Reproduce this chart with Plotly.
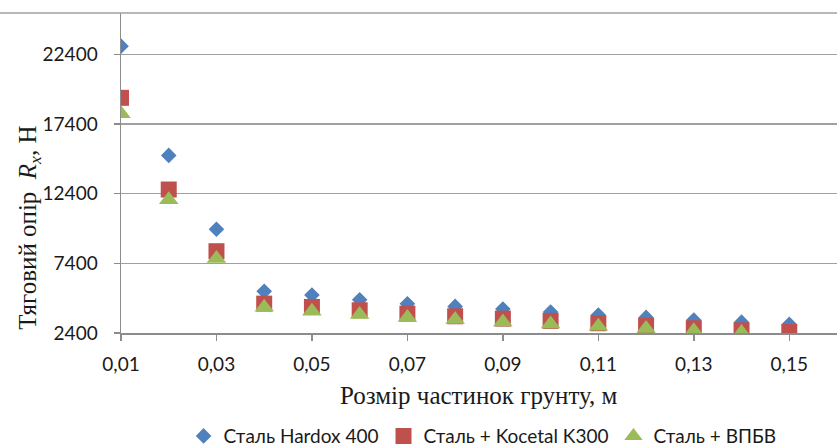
import plotly.graph_objects as go

x_vals = [0.01, 0.02, 0.03, 0.04, 0.05, 0.06, 0.07, 0.08, 0.09, 0.10, 0.11, 0.12, 0.13, 0.14, 0.15]
hardox = [22990, 15150, 9850, 5390, 5130, 4780, 4500, 4310, 4120, 3900, 3690, 3520, 3330, 3180, 3020]
kocetal = [19280, 12700, 8270, 4510, 4270, 4030, 3790, 3600, 3430, 3270, 3100, 2910, 2740, 2590, 2470]
vpbv_x = [0.01, 0.02, 0.03, 0.04, 0.05, 0.06, 0.07, 0.08, 0.09, 0.10, 0.11, 0.12, 0.13, 0.14]
vpbv = [18130, 11970, 7745, 4250, 3970, 3720, 3510, 3370, 3190, 3040, 2880, 2720, 2560, 2430]

names = ["Сталь Hardox 400", "Сталь + Kocetal K300", "Сталь + ВПБВ"]
colors = ["#4F81BD", "#C0504D", "#9BBB59"]

x_tickvals = [0.01, 0.03, 0.05, 0.07, 0.09, 0.11, 0.13, 0.15]
x_ticktext = ["0,01", "0,03", "0,05", "0,07", "0,09", "0,11", "0,13", "0,15"]
y_tickvals = [2400, 7400, 12400, 17400, 22400]

fig = go.Figure()
fig.add_trace(go.Scatter(x=x_vals, y=hardox, mode="markers", name=names[0],
                         marker=dict(symbol="diamond", size=12, color=colors[0])))
fig.add_trace(go.Scatter(x=x_vals, y=kocetal, mode="markers", name=names[1],
                         marker=dict(symbol="square", size=16, color=colors[1])))
fig.add_trace(go.Scatter(x=vpbv_x, y=vpbv, mode="markers", name=names[2],
                         marker=dict(symbol="triangle-up", size=17, color=colors[2])))

grid = "#a0a0a0"
axis_c = "#8c8c8c"
tick_font = dict(family="Lato, Calibri, 'Open Sans', sans-serif", size=19, color="#1a1a1a")

fig.update_layout(
    width=837, height=446,
    margin=dict(l=121, r=0, t=13, b=113, autoexpand=False),
    plot_bgcolor="white", paper_bgcolor="white",
    showlegend=True,
    legend=dict(orientation="h", x=0.505, xanchor="center", y=-0.322, yanchor="middle",
                font=dict(family="Lato, Calibri, 'Noto Sans', sans-serif", size=19, color="#1a1a1a"),
                itemsizing="trace", bgcolor="rgba(0,0,0,0)", tracegroupgap=0, itemwidth=30),
    xaxis=dict(range=[0.01, 0.16], tickvals=x_tickvals, ticktext=x_ticktext, automargin=False,
               showgrid=False, zeroline=False, showline=True, linecolor=axis_c, linewidth=1.5,
               ticks="outside", ticklen=6, tickcolor=axis_c, tickwidth=1.5,
               tickfont=tick_font, ticklabelstandoff=8),
    yaxis=dict(range=[2400, 25370], tickvals=y_tickvals, ticktext=[str(v) for v in y_tickvals],
               automargin=False,
               showgrid=True, gridcolor=grid, gridwidth=1.3, zeroline=False,
               showline=True, linecolor=axis_c, linewidth=1.5,
               ticks="outside", ticklen=6, tickcolor=axis_c, tickwidth=1.5,
               tickfont=tick_font, ticklabelstandoff=12),
)

fig.add_shape(type="line", xref="paper", yref="paper", x0=-0.17, x1=1.0, y0=1, y1=1,
              line=dict(color=grid, width=1.3))

fig.add_annotation(text="Розмір частинок грунту, м", xref="paper", yref="paper",
                   x=0.5, y=-0.195, xanchor="center", yanchor="middle", showarrow=False,
                   font=dict(family="'Liberation Serif', 'Times New Roman', serif", size=25, color="#1a1a1a"))
fig.add_annotation(text="Тяговий опір  <i>R</i><sub><i>x</i></sub>, Н", xref="paper", yref="paper",
                   x=-0.128, y=0.33, xanchor="center", yanchor="middle", textangle=-90, showarrow=False,
                   font=dict(family="'Liberation Serif', 'Times New Roman', serif", size=25, color="#1a1a1a"))

fig.write_html("out.html", config={"displayModeBar": False, "staticPlot": True},
               post_script="document.body.style.margin='0';document.body.style.overflow='hidden';")
